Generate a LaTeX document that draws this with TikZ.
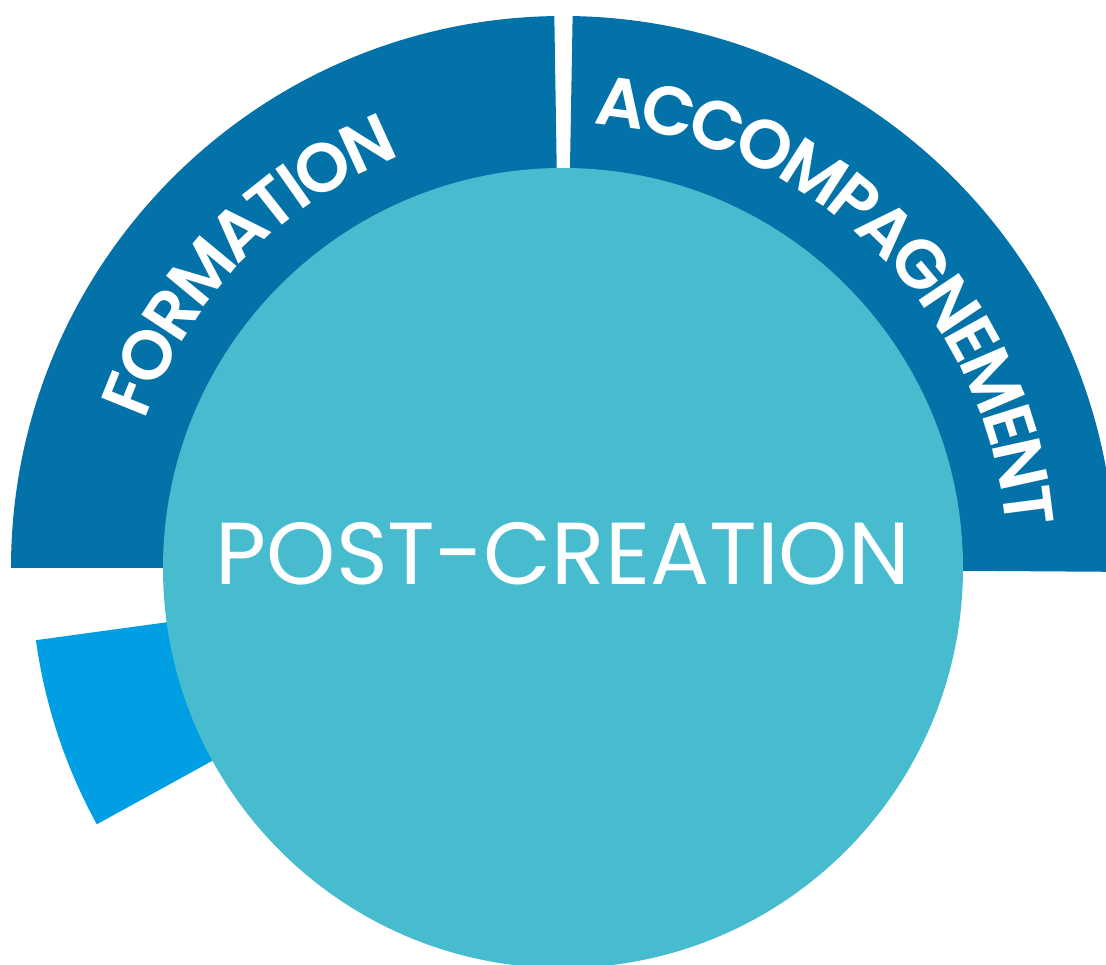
\documentclass[tikz,border=0pt]{standalone}
\usepackage{fontspec}
\setmainfont{Poppins}
\newfontfamily\popsemi{Poppins SemiBold}
\usetikzlibrary{decorations.text}
\definecolor{ringblue}{RGB}{2,114,168}
\definecolor{coreteal}{RGB}{71,188,207}
\definecolor{brightblue}{RGB}{0,159,227}
\tikzset{
  arclabel/.style 2 args={decorate, decoration={text along path, text align=center,
    text={|\popsemi\fontsize{69pt}{69pt}\selectfont\color{white}\kern-#2pt|#1}}}
}
\begin{document}
\begin{tikzpicture}[x=1pt,y=1pt]
\useasboundingbox (-563,-397) rectangle (543,568);
% outer ring sectors
\fill[ringblue] (0,0) -- (-0.4:552) arc[start angle=-0.4, end angle=89, radius=552] -- cycle;
\fill[ringblue] (0,0) -- (90.9:552) arc[start angle=90.9, end angle=180, radius=552] -- cycle;
\fill[brightblue] (0,0) -- (187.8:532) arc[start angle=187.8, end angle=208.8, radius=532] -- cycle;
% core circle
\fill[coreteal] (0,0) circle[radius=400];
% labels
\path[arclabel={FORMATION}{3.8}] (181.6:443) arc[start angle=181.6, end angle=90, radius=443];
\path[arclabel={ACCOMPAGNEMENT}{4.9}] (90.5:445) arc[start angle=90.5, end angle=0, radius=445];
\node (core) [anchor=base, text=white, font=\fontsize{88pt}{88pt}\selectfont, inner sep=0] at (0,-17) {POST-CREATION};
\end{tikzpicture}
\end{document}
